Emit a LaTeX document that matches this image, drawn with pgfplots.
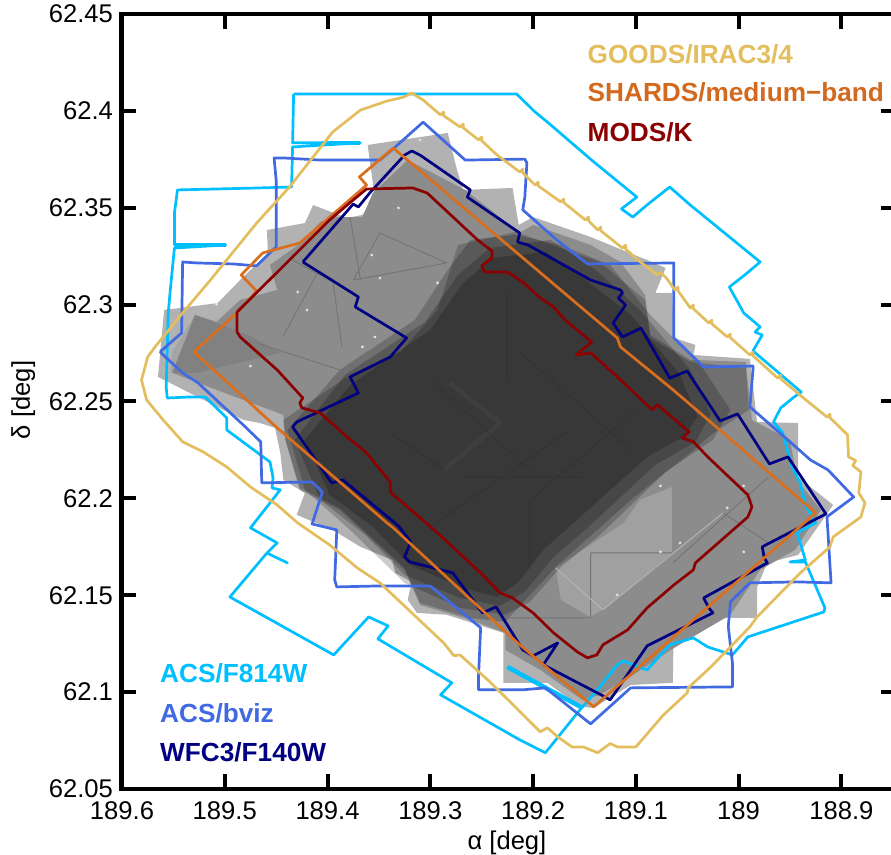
\documentclass[border=0pt]{standalone}
\usepackage{pgfplots}
\pgfplotsset{compat=1.18}
\usepackage{fontspec}
\setmainfont{Liberation Sans}
\definecolor{cF}{HTML}{00BFFF}
\definecolor{cB}{HTML}{4169E1}
\definecolor{cN}{HTML}{000080}
\definecolor{cO}{HTML}{D96F1E}
\definecolor{cOt}{HTML}{D2691E}
\definecolor{cR}{HTML}{8B0000}
\definecolor{cG}{HTML}{E3BE5E}
\definecolor{gEnv}{HTML}{B2B2B2}
\definecolor{gMid}{HTML}{8C8C8C}
\definecolor{gLit}{HTML}{A0A0A0}
\definecolor{gSeam}{HTML}{747474}
\definecolor{gSeamL}{HTML}{B4B4B4}
\definecolor{gSpeck}{HTML}{E6E6E6}
\definecolor{gCore}{HTML}{262626}
\definecolor{gChev}{HTML}{4C4C4C}
\begin{document}
\begin{tikzpicture}
\useasboundingbox (0,0) rectangle (891pt,854pt);
\begin{axis}[
 at={(121.5pt,65pt)},anchor=south west,scale only axis,width=774pt,height=775pt,
 x dir=reverse,xmin=188.8473,xmax=189.6005,ymin=62.05,ymax=62.45,
 xtick={189.6,189.5,189.4,189.3,189.2,189.1,189,188.9},
 xticklabels={189.6,189.5,189.4,189.3,189.2,189.1,189,188.9},
 ytick={62.05,62.1,62.15,62.2,62.25,62.3,62.35,62.4,62.45},
 yticklabels={62.05,62.1,62.15,62.2,62.25,62.3,62.35,62.4,62.45},
 tick pos=both,tick align=inside,major tick length=15pt,
 every tick/.style={black,line width=4pt},
 axis line style={line width=4.5pt},
 ticklabel style={font=\fontsize{25.6}{29}\selectfont},
 xticklabel style={yshift=-9pt},
 yticklabel style={xshift=-5pt},
 xlabel={α [deg]},ylabel={δ [deg]},
 label style={font=\fontsize{25.6}{29}\selectfont},
 xlabel style={at={(axis description cs:0.498,-0.0697)},anchor=center},
 ylabel style={at={(axis description cs:-0.1268,0.502)},anchor=center},
 axis on top,
 unbounded coords=jump,
 every axis plot/.append style={line join=round,no markers},
]
% envelope of the mosaic
\addplot[fill=gEnv,draw=none] coordinates {
(189.565,62.2627)(189.559,62.2972)(189.507,62.3008)(189.485,62.3127)(189.458,62.3267)(189.459,62.3385)
(189.422,62.3421)(189.414,62.3514)(189.381,62.3447)(189.366,62.3463)(189.354,62.3555)(189.361,62.3824)
(189.283,62.3886)(189.274,62.3695)(189.268,62.3592)(189.220,62.3602)(189.214,62.3411)(189.200,62.3452)
(189.144,62.3349)(189.089,62.3230)(189.071,62.3189)(189.081,62.3060)(189.065,62.3060)(189.063,62.2828)
(189.042,62.2792)(189.044,62.2740)(188.989,62.2720)(188.982,62.2394)(188.942,62.2389)(188.942,62.2110)
(188.908,62.1966)(188.942,62.1708)(188.972,62.1667)(188.982,62.1543)(188.982,62.1383)(189.025,62.1383)
(189.063,62.1373)(189.064,62.1048)(189.105,62.1037)(189.141,62.0919)(189.154,62.0924)(189.186,62.1048)
(189.229,62.1048)(189.229,62.1306)(189.284,62.1399)(189.313,62.1409)(189.322,62.1476)(189.318,62.1569)
(189.334,62.1615)(189.337,62.1682)(189.368,62.1750)(189.395,62.1837)(189.430,62.1915)(189.422,62.2028)
(189.443,62.2095)(189.446,62.2235)(189.451,62.2364)(189.466,62.2389)(189.482,62.2405)
} --cycle;
% single-depth mosaic
\addplot[fill=gMid,draw=none] coordinates {
(189.551,62.2648)(189.529,62.2947)(189.508,62.2911)(189.485,62.3024)(189.449,62.3076)(189.456,62.3205)
(189.427,62.3313)(189.407,62.3427)(189.391,62.3452)(189.366,62.3452)(189.356,62.3576)(189.322,62.3746)
(189.266,62.3592)(189.213,62.3370)(189.200,62.3411)(189.144,62.3308)(189.115,62.3220)(189.091,62.3050)
(189.086,62.2843)(189.047,62.2715)(188.993,62.2704)(188.987,62.2405)(188.950,62.2302)(188.943,62.2095)
(188.920,62.1940)(188.945,62.1734)(188.979,62.1631)(189.008,62.1399)(189.066,62.1218)(189.110,62.1063)
(189.135,62.0986)(189.152,62.0960)(189.193,62.1115)(189.227,62.1218)(189.227,62.1306)(189.261,62.1373)
(189.310,62.1450)(189.325,62.1631)(189.388,62.1940)(189.427,62.2044)(189.441,62.2302)(189.443,62.2431)
(189.495,62.2534)
} --cycle;
% darker tilted frame, upper left
\addplot[fill=black,fill opacity=0.08,draw=none] coordinates {
(189.529,62.2947)(189.551,62.2756)(189.553,62.2648)(189.527,62.2648)(189.446,62.2751)(189.473,62.2833)
} --cycle;
% lighter patch, lower right
\addplot[fill=gLit,draw=none] coordinates {
(189.178,62.1641)(189.112,62.1873)(189.096,62.1992)(189.065,62.2059)(189.065,62.1719)(189.128,62.1440)(189.144,62.1388)(189.173,62.1476)
} --cycle;
% deeper layers
\addplot[fill=black,fill opacity=0.2,draw=none] coordinates {
(189.443,62.2405)(189.378,62.2637)(189.329,62.2756)(189.293,62.2972)(189.273,62.3308)(189.217,62.3375)
(189.135,62.3220)(189.091,62.3024)(189.086,62.2828)(189.047,62.2704)(188.993,62.2673)(188.990,62.2457)
(189.027,62.2328)(189.047,62.2235)(189.105,62.1992)(189.178,62.1646)(189.227,62.1363)(189.261,62.1383)
(189.310,62.1461)(189.325,62.1641)(189.388,62.1951)(189.427,62.2054)(189.441,62.2302)
} --cycle;
\addplot[fill=black,fill opacity=0.2,draw=none] coordinates {
(189.439,62.2353)(189.388,62.2663)(189.315,62.2921)(189.283,62.3179)(189.261,62.3334)(189.217,62.3360)
(189.173,62.3308)(189.125,62.3205)(189.086,62.2947)(189.037,62.2689)(189.008,62.2457)(189.025,62.2302)
(189.071,62.2137)(189.135,62.1811)(189.173,62.1646)(189.203,62.1466)(189.227,62.1399)(189.271,62.1435)
(189.325,62.1564)(189.378,62.1837)(189.422,62.2044)
} --cycle;
\addplot[fill=black,fill opacity=0.2,draw=none] coordinates {
(189.432,62.2302)(189.383,62.2637)(189.305,62.2911)(189.273,62.3153)(189.242,62.3292)(189.183,62.3334)
(189.139,62.3179)(189.096,62.2972)(189.047,62.2663)(189.027,62.2436)(189.042,62.2292)(189.081,62.2173)
(189.144,62.1863)(189.181,62.1693)(189.208,62.1517)(189.232,62.1445)(189.271,62.1486)(189.325,62.1605)
(189.363,62.1811)(189.407,62.1992)
} --cycle;
\addplot[fill=black,fill opacity=0.2,draw=none] coordinates {
(189.422,62.2302)(189.378,62.2585)(189.300,62.2869)(189.268,62.3112)(189.239,62.3241)(189.188,62.3272)
(189.149,62.3127)(189.105,62.2947)(189.057,62.2637)(189.040,62.2420)(189.054,62.2317)(189.089,62.2214)
(189.154,62.1905)(189.190,62.1734)(189.215,62.1564)(189.235,62.1492)(189.268,62.1538)(189.320,62.1657)
(189.356,62.1853)(189.398,62.2018)
} --cycle;
% chevron and seams in the deep core
\addplot[gChev,line width=5pt,opacity=0.3] coordinates {(189.281,62.2596)(189.232,62.2389)(189.287,62.2147)};
\addplot[gCore,line width=0.8pt,opacity=0.35] coordinates {
(189.225,62.3060)(189.225,62.2596)(nan,nan)
(189.339,62.2338)(189.286,62.2147)(nan,nan)
(189.203,62.1992)(189.099,62.2457)(nan,nan)
(189.268,62.2110)(189.151,62.2110)(nan,nan)
(189.215,62.2766)(189.105,62.2250)(nan,nan)
(189.300,62.2611)(189.203,62.2147)(nan,nan)
(189.290,62.1889)(189.164,62.2353)(nan,nan)
(189.203,62.1992)(189.203,62.1631)
};
% seams
\addplot[line width=0.9pt,color=gSeam] coordinates {
(189.410,62.3163)(189.443,62.2838)(nan,nan)
(189.395,62.3132)(189.386,62.2782)(nan,nan)
(189.434,62.3230)(189.375,62.3060)(nan,nan)
(189.378,62.3452)(189.368,62.3127)(nan,nan)
(189.349,62.3370)(189.375,62.3127)(nan,nan)
(189.349,62.3370)(189.284,62.3215)(nan,nan)
(189.469,62.2802)(189.388,62.2663)(nan,nan)
(189.375,62.3127)(189.284,62.3215)(nan,nan)
(189.144,62.1719)(189.144,62.1388)(nan,nan)
(189.229,62.1383)(189.144,62.1383)(nan,nan)
(189.065,62.1719)(189.144,62.1719)(nan,nan)
(189.064,62.1667)(188.971,62.2110)(nan,nan)
(189.015,62.1925)(188.971,62.1770)
};
\addplot[line width=1pt,color=gSeamL] coordinates {
(189.132,62.1425)(189.015,62.1925)(nan,nan)
(189.178,62.1641)(189.132,62.1425)
};
\addplot[only marks,color=gSpeck,mark=*,mark size=1.2pt,mark options={solid,draw=gSpeck,fill=gSpeck}] coordinates {
(189.508,62.3002)(189.310,62.3850)(189.475,62.2683)(189.429,62.3065)(189.420,62.2972)(189.357,62.3256)
(189.349,62.3137)(189.331,62.3499)(189.366,62.2782)(189.354,62.2833)(189.293,62.3112)(189.011,62.1951)
(189.076,62.2064)(189.057,62.1770)(189.076,62.1724)(188.995,62.1724)(188.995,62.2064)(189.118,62.1502)
};
% ACS/F814W
\addplot[cF,line width=2.7pt] coordinates {
(189.433,62.4087)(189.216,62.4087)(189.198,62.3994)(189.186,62.3942)(189.143,62.3746)(189.099,62.3555)
(189.114,62.3494)(189.103,62.3452)(189.088,62.3519)(189.067,62.3607)(189.047,62.3514)(189.010,62.3354)
(188.979,62.3220)(188.994,62.3153)(189.009,62.3091)(188.995,62.2957)(188.979,62.2885)(188.984,62.2859)
(188.977,62.2843)(188.986,62.2761)(188.939,62.2549)(188.946,62.2523)(188.959,62.2467)(188.966,62.2394)
(188.957,62.2338)(188.948,62.2162)(188.940,62.2080)(188.935,62.1966)(188.925,62.1873)(188.943,62.1822)
(188.935,62.1682)(188.950,62.1672)(188.935,62.1672)(188.916,62.1435)(188.917,62.1414)(188.991,62.1285)
(189.006,62.1192)(189.030,62.1233)(189.044,62.1280)(189.067,62.1244)(189.089,62.1115)(189.103,62.1141)
(189.112,62.1161)(189.118,62.1141)(189.135,62.1027)(189.156,62.0898)(189.188,62.0687)(189.213,62.0754)
(189.290,62.0986)(189.279,62.1048)(189.351,62.1275)(189.341,62.1342)(189.360,62.1388)(189.394,62.1192)
(189.495,62.1491)(189.459,62.1718)(189.439,62.1667)(189.459,62.1718)(189.449,62.1770)(189.475,62.1848)
(189.446,62.2044)(189.454,62.2054)(189.453,62.2106)(189.456,62.2188)(189.498,62.2353)(189.498,62.2415)
(189.519,62.2523)(189.536,62.2523)(189.556,62.2518)(189.557,62.2575)(189.555,62.2957)(189.553,62.3076)
(189.549,62.3292)(189.499,62.3308)(189.549,62.3308)(189.549,62.3473)(189.546,62.3592)(189.468,62.3602)
(189.435,62.3607)(189.434,62.3814)(189.368,62.3835)(189.434,62.3835)(189.433,62.4087)
};
% thicker stretches of F814W
\addplot[cF,line width=4.5pt] coordinates {(189.225,62.1130)(189.152,62.0919)};
\addplot[cF,line width=4.2pt] coordinates {(189.405,62.3835)(189.368,62.3835)};
\addplot[cF,line width=4.2pt] coordinates {(189.547,62.3308)(189.499,62.3308)};
% ACS/bviz
\addplot[cB,line width=2.7pt] coordinates {
(189.563,62.2756)(189.542,62.2854)(189.541,62.3220)(189.527,62.3215)(189.492,62.3210)(189.469,62.3200)
(189.450,62.3298)(189.450,62.3643)(189.452,62.3757)(189.443,62.3757)(189.407,62.3746)(189.349,62.3746)
(189.334,62.3814)(189.307,62.3942)(189.266,62.3746)(189.208,62.3751)(189.206,62.3731)(189.208,62.3555)
(189.210,62.3489)(189.177,62.3334)(189.147,62.3210)(189.063,62.3215)(189.063,62.2828)(189.034,62.2678)
(188.986,62.2683)(188.986,62.2663)(188.989,62.2472)(188.950,62.2292)(188.930,62.2198)(188.913,62.2147)
(188.888,62.2007)(188.914,62.1905)(188.913,62.1822)(188.910,62.1564)(188.943,62.1569)(188.989,62.1564)
(189.008,62.1466)(189.010,62.1337)(189.006,62.1151)(189.006,62.1027)(189.105,62.1022)(189.144,62.0836)
(189.188,62.1022)(189.210,62.1012)(189.253,62.1012)(189.253,62.1089)(189.251,62.1332)(189.300,62.1548)
(189.351,62.1548)(189.391,62.1543)(189.393,62.1579)(189.391,62.1837)(189.415,62.1868)(189.405,62.2033)
(189.415,62.2085)(189.464,62.2080)(189.465,62.2292)(189.482,62.2379)(189.526,62.2596)(189.541,62.2647)
(189.563,62.2756)
};
% WFC3/F140W
\addplot[cN,line width=2.7pt] coordinates {
(189.424,62.3220)(189.375,62.3519)(189.370,62.3504)(189.359,62.3576)(189.325,62.3772)(189.318,62.3793)
(189.310,62.3772)(189.261,62.3592)(189.264,62.3555)(189.213,62.3370)(189.215,62.3323)(189.205,62.3308)
(189.144,62.3127)(189.115,62.3076)(189.113,62.3060)(189.117,62.3034)(189.110,62.2998)(189.122,62.2905)
(189.113,62.2833)(189.095,62.2879)(189.067,62.2621)(189.050,62.2657)(189.018,62.2400)(189.001,62.2436)
(188.970,62.2178)(188.952,62.2214)(188.915,62.1920)(188.977,62.1750)(188.975,62.1693)(188.972,62.1667)
(189.034,62.1486)(189.029,62.1435)(189.025,62.1409)(189.089,62.1239)(189.125,62.0960)(189.132,62.0981)
(189.190,62.1141)(189.176,62.1254)(189.200,62.1187)(189.210,62.1218)(189.236,62.1440)(189.249,62.1409)
(189.253,62.1435)(189.278,62.1615)(189.293,62.1636)(189.320,62.1672)(189.325,62.1698)(189.319,62.1775)
(189.331,62.1858)(189.385,62.2095)(189.396,62.2080)(189.434,62.2369)(189.430,62.2394)(189.370,62.2544)
(189.378,62.2627)(189.339,62.2730)(189.323,62.2828)(189.373,62.2988)(189.370,62.3040)(189.424,62.3220)
};
% GOODS/IRAC3/4
\addplot[cG,line width=2.7pt] coordinates {
(189.318,62.4092)(189.307,62.4056)(189.290,62.3979)(189.287,62.3994)(189.287,62.3975)(189.271,62.3917)(189.268,62.3932)(189.268,62.3913)
(189.253,62.3850)(189.250,62.3865)(189.250,62.3846)(189.235,62.3772)(189.213,62.3685)(189.210,62.3700)(189.210,62.3681)
(189.198,62.3617)(189.195,62.3632)(189.195,62.3613)(189.173,62.3530)(189.170,62.3545)(189.170,62.3526)(189.149,62.3437)(189.146,62.3452)(189.146,62.3433)
(189.137,62.3385)(189.134,62.3400)(189.134,62.3381)(189.113,62.3292)(189.110,62.3307)(189.110,62.3288)
(189.098,62.3230)(189.079,62.3153)(189.076,62.3168)(189.070,62.3135)(189.062,62.3076)(189.059,62.3091)(189.059,62.3072)
(189.047,62.2983)(189.044,62.2998)(189.044,62.2979)(189.029,62.2905)(189.026,62.2920)(189.026,62.2901)(189.011,62.2833)(189.008,62.2848)(189.008,62.2829)
(188.989,62.2740)(188.986,62.2755)(188.986,62.2736)(188.962,62.2621)(188.959,62.2636)(188.959,62.2617)(188.938,62.2523)(188.914,62.2420)(188.911,62.2435)(188.911,62.2416)(188.894,62.2328)(188.893,62.2214)
(188.886,62.2195)(188.889,62.2170)(188.881,62.2136)(188.883,62.2028)(188.877,62.1977)(188.881,62.1904)(188.908,62.1801)(188.911,62.1750)
(188.940,62.1615)(188.982,62.1388)(188.989,62.1337)(189.008,62.1233)(189.027,62.1130)(189.049,62.1022)
(189.050,62.0996)(189.073,62.0883)(189.100,62.0717)(189.118,62.0717)(189.125,62.0735)(189.137,62.0687)(189.151,62.0717)
(189.162,62.0717)(189.176,62.0769)(189.186,62.0816)(189.193,62.0795)(189.242,62.1053)(189.271,62.1192)
(189.277,62.1188)(189.287,62.1254)(189.349,62.1564)(189.371,62.1641)(189.398,62.1760)(189.429,62.1873)(189.449,62.1966)
(189.475,62.2059)(189.498,62.2162)(189.521,62.2240)(189.541,62.2292)(189.560,62.2405)(189.576,62.2508)
(189.581,62.2611)(189.575,62.2730)(189.568,62.2781)(189.541,62.2957)(189.514,62.3127)(189.469,62.3421)
(189.437,62.3607)(189.395,62.3891)(189.368,62.4004)(189.342,62.4051)(189.326,62.4071)(189.318,62.4092)
};
% SHARDS
\addplot[cO,line width=2.7pt] coordinates {
(189.530,62.2756)(189.488,62.2957)(189.469,62.3070)(189.484,62.3153)(189.463,62.3267)(189.427,62.3318)
(189.362,62.3617)(189.369,62.3659)(189.336,62.3808)(189.118,62.2828)(189.115,62.2782)(189.066,62.2570)
(189.050,62.2498)(188.925,62.1925)(189.141,62.0924)(189.213,62.1244)(189.336,62.1848)(189.342,62.1873)
(189.449,62.2364)(189.530,62.2756)
};
% MODS/K
\addplot[cR,line width=2.7pt] coordinates {
(189.488,62.2962)(189.488,62.2859)(189.485,62.2833)(189.449,62.2663)(189.424,62.2518)(189.427,62.2493)
(189.425,62.2467)(189.407,62.2441)(189.381,62.2317)(189.362,62.2235)(189.339,62.2085)(189.339,62.2033)
(189.293,62.1822)(189.251,62.1615)(189.232,62.1512)(189.220,62.1486)(189.200,62.1409)(189.180,62.1306)
(189.157,62.1208)(189.147,62.1177)(189.138,62.1192)(189.132,62.1244)(189.108,62.1321)(189.089,62.1435)
(189.063,62.1553)(189.044,62.1631)(189.042,62.1667)(188.991,62.1904)(188.987,62.1956)(188.991,62.2018)
(189.030,62.2214)(189.044,62.2292)(189.055,62.2312)(189.048,62.2343)(189.079,62.2483)(189.084,62.2457)
(189.122,62.2647)(189.144,62.2751)(189.158,62.2740)(189.143,62.2807)(189.169,62.2921)(189.180,62.2988)
(189.193,62.3034)(189.210,62.3117)(189.225,62.3168)(189.247,62.3168)(189.250,62.3200)(189.240,62.3241)
(189.240,62.3277)(189.254,62.3334)(189.303,62.3576)(189.317,62.3602)(189.362,62.3597)(189.375,62.3540)
(189.398,62.3437)(189.430,62.3267)(189.488,62.2962)
};
\def\lf{\fontsize{26.2}{30}\selectfont\bfseries}
\node[anchor=west,inner sep=0pt,text=cG] at (axis cs:189.147,62.4293) {\lf GOODS/IRAC3/4};
\node[anchor=west,inner sep=0pt,text=cOt] at (axis cs:189.147,62.4097) {\lf SHARDS/medium−band};
\node[anchor=west,inner sep=0pt,text=cR] at (axis cs:189.147,62.3891) {\lf MODS/K};
\node[anchor=west,inner sep=0pt,text=cF] at (axis cs:189.563,62.1095) {\lf ACS/F814W};
\node[anchor=west,inner sep=0pt,text=cB] at (axis cs:189.563,62.0893) {\lf ACS/bviz};
\node[anchor=west,inner sep=0pt,text=cN] at (axis cs:189.563,62.0692) {\lf WFC3/F140W};
\end{axis}
\end{tikzpicture}
\end{document}
